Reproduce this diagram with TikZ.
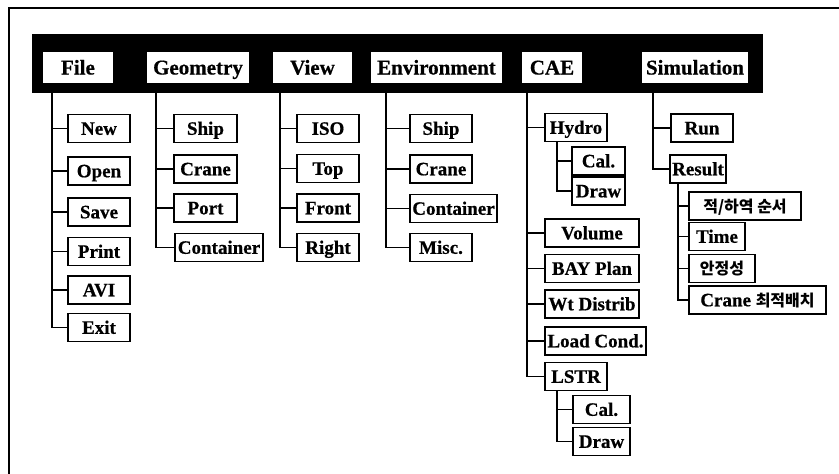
\documentclass[tikz,border=0pt]{standalone}
\usepackage{fontspec}
\setmainfont{Liberation Serif}[BoldFeatures={FakeBold=0.6}]
\newfontfamily\krfont{Noto Sans CJK KR}
\begin{document}
\begin{tikzpicture}[x=1pt,y=-1pt,
  hdr/.style={fill=white, inner sep=0, minimum height=31, text height=14, text depth=0,
    font=\bfseries\fontsize{21}{21}\selectfont},
  item/.style={draw, line width=1.7, fill=white, inner sep=0, minimum height=28,
    text height=12.6, text depth=0, font=\bfseries\fontsize{19}{19}\selectfont},
  kr/.style={font=\krfont\bfseries\fontsize{16}{16}\selectfont},
  link/.style={line width=1.6},
  frame/.style={line width=1.6}]
\useasboundingbox (0,0) rectangle (839,474);
% frame
\draw[frame] (9,474) -- (9,8) -- (839,8);
% menu bar
\node[fill=black, inner sep=0, minimum width=731, minimum height=59] (bar) at (397.5,63.5) {};
\node[hdr, minimum width=70] (hfile) at (78,67.5) {File};
\node[hdr, minimum width=102] (hgeo) at (198,67.5) {Geometry};
\node[hdr, minimum width=79] (hview) at (312.5,67.5) {View};
\node[hdr, minimum width=131] (henv) at (436.5,67.5) {Environment};
\node[hdr, minimum width=60] (hcae) at (552,67.5) {CAE};
\node[hdr, minimum width=106] (hsim) at (695,67.5) {Simulation};
\coordinate (fileT) at (52,93);
\coordinate (geoT) at (156,93);
\coordinate (viewT) at (280,93);
\coordinate (envT) at (386,93);
\coordinate (caeT) at (527,93);
\coordinate (simT) at (653,93);
% File
\node[item, minimum width=62] (fnew) at (99,128.5) {New};
\node[item, minimum width=62] (fopen) at (99,171) {Open};
\node[item, minimum width=62] (fsave) at (99,212) {Save};
\node[item, minimum width=62] (fprint) at (99,251.5) {Print};
\node[item, minimum width=62] (favi) at (99,290) {AVI};
\node[item, minimum width=62] (fexit) at (99,327.5) {Exit};
\draw[link] (fileT) |- (fexit.west);
\foreach \n in {fnew,fopen,fsave,fprint,favi} \draw[link] (fileT |- \n.west) -- (\n.west);
% Geometry
\node[item, minimum width=63] (gship) at (205.5,128.5) {Ship};
\node[item, minimum width=63] (gcrane) at (205.5,169) {Crane};
\node[item, minimum width=63] (gport) at (205.5,208) {Port};
\node[item, minimum width=88] (gcont) at (219,247.5) {Container};
\draw[link] (geoT) |- (gcont.west);
\foreach \n in {gship,gcrane,gport} \draw[link] (geoT |- \n.west) -- (\n.west);
% View
\node[item, minimum width=62] (viso) at (328,128.5) {ISO};
\node[item, minimum width=62] (vtop) at (328,168.5) {Top};
\node[item, minimum width=62] (vfront) at (328,208) {Front};
\node[item, minimum width=62] (vright) at (328,247.5) {Right};
\draw[link] (viewT) |- (vright.west);
\foreach \n in {viso,vtop,vfront} \draw[link] (viewT |- \n.west) -- (\n.west);
% Environment
\node[item, minimum width=62] (eship) at (441,128.5) {Ship};
\node[item, minimum width=62] (ecrane) at (441,169) {Crane};
\node[item, minimum width=87] (econt) at (453.5,208.5) {Container};
\node[item, minimum width=62] (emisc) at (441,247.5) {Misc.};
\draw[link] (envT) |- (emisc.west);
\foreach \n in {eship,ecrane,econt} \draw[link] (envT |- \n.west) -- (\n.west);
% CAE
\node[item, minimum width=62] (chydro) at (576,127.5) {Hydro};
\node[item, minimum width=53] (chcal) at (598.5,161) {Cal.};
\node[item, minimum width=53] (chdraw) at (598.5,191) {Draw};
\node[item, minimum width=94] (cvol) at (592,233) {Volume};
\node[item, minimum width=94] (cbay) at (592,268.5) {BAY Plan};
\node[item, minimum width=94] (cwt) at (592,304) {Wt Distrib};
\node[item, minimum width=101] (cload) at (595.5,341) {Load Cond.};
\node[item, minimum width=62] (clstr) at (576,376.5) {LSTR};
\node[item, minimum width=57] (clcal) at (601.5,409.5) {Cal.};
\node[item, minimum width=57] (cldraw) at (601.5,441.5) {Draw};
\draw[link] (caeT) |- (clstr.west);
\foreach \n in {chydro,cvol,cbay,cwt,cload} \draw[link] (caeT |- \n.west) -- (\n.west);
\coordinate (hydroT) at (557,141.5);
\draw[link] (hydroT) |- (chdraw.west);
\draw[link] (hydroT |- chcal.west) -- (chcal.west);
\coordinate (lstrT) at (557,390.5);
\draw[link] (lstrT) |- (cldraw.west);
\draw[link] (lstrT |- clcal.west) -- (clcal.west);
% Simulation
\node[item, minimum width=62] (srun) at (702,128) {Run};
\node[item, minimum width=56] (sres) at (698,169) {Result};
\node[item, minimum width=112, kr] (sseq) at (745,206) {적/하역 순서};
\node[item, minimum width=56] (stime) at (717,236.5) {Time};
\node[item, minimum width=66, kr] (sstab) at (722,268.5) {안정성};
\node[item, minimum width=137] (scrane) at (757.5,300) {Crane {\krfont\fontsize{16}{16}\selectfont 최적배치}};
\draw[link] (simT) |- (sres.west);
\draw[link] (simT |- srun.west) -- (srun.west);
\coordinate (resT) at (678,183);
\draw[link] (resT) |- (scrane.west);
\foreach \n in {sseq,stime,sstab} \draw[link] (resT |- \n.west) -- (\n.west);
\end{tikzpicture}
\end{document}
